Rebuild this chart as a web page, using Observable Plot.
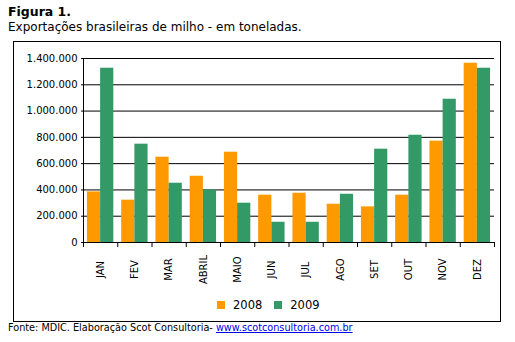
<!DOCTYPE html>
<html>
<head>
<meta charset="utf-8">
<script src="https://cdn.jsdelivr.net/npm/d3@7"></script>
<script src="https://cdn.jsdelivr.net/npm/@observablehq/plot@0.6"></script>
<style>
  html, body { margin: 0; padding: 0; background: #fff; }
  body { width: 515px; height: 342px; position: relative; overflow: hidden; font-family: "DejaVu Sans", sans-serif; color: #000; }
  #title { position: absolute; left: 8px; top: 4px; font-weight: bold; font-size: 12.5px; }
  #subtitle { position: absolute; left: 8px; top: 20px; font-size: 12px; }
  #box { position: absolute; left: 13px; top: 41px; width: 486px; height: 279px; border: 1px solid #000; }
  #chart { position: absolute; left: 0; top: 0; }
  #legend { position: absolute; left: 203px; top: 256px; font-size: 11.5px; white-space: nowrap; }
  #legend span.sw { display: inline-block; width: 8px; height: 8px; margin-right: 8px; vertical-align: 0px; }
  #legend span.lab { margin-right: 12px; }
  #caption { position: absolute; left: 8px; top: 322px; font-size: 9.7px; }
  #caption a { color: #0000ee; text-decoration: underline; }
</style>
</head>
<body>
<div id="title">Figura 1.</div>
<div id="subtitle">Exportações brasileiras de milho - em toneladas.</div>
<div id="box">
  <div id="chart"></div>
  <div id="legend"></div>
</div>
<div id="caption">Fonte: MDIC. Elaboração Scot Consultoria- <a>www.scotconsultoria.com.br</a></div>
<script>
const months = ["JAN","FEV","MAR","ABRIL","MAIO","JUN","JUL","AGO","SET","OUT","NOV","DEZ"];
const values2008 = [385000, 322000, 649000, 504000, 687000, 360000, 375000, 291000, 271000, 360000, 771000, 1364000];
const values2009 = [1326000, 748000, 451000, 400000, 299000, 154000, 154000, 367000, 710000, 816000, 1090000, 1326000];
const seriesNames = ["2008", "2009"];
const seriesColors = ["#FF9900", "#339966"];
const yTicks = [0, 200000, 400000, 600000, 800000, 1000000, 1200000, 1400000];

const rows = months.map((m, i) => ({i, m, v2008: values2008[i], v2009: values2009[i]}));
const fmt = d3.formatLocale({thousands: ".", grouping: [3], decimal: ","}).format(",d");

const chart = Plot.plot({
  width: 486,
  height: 250,
  marginLeft: 69,
  marginRight: 6,
  marginTop: 16,
  marginBottom: 50,
  style: {fontFamily: "DejaVu Sans, sans-serif", fontSize: "10px", color: "#000", background: "transparent"},
  x: {domain: [0, 12]},
  y: {domain: [0, 1400000]},
  marks: [
    Plot.gridY(yTicks, {stroke: "#000", strokeOpacity: 1}),
    Plot.rectY(rows, {x1: d => d.i + 0.115, x2: d => d.i + 0.5, y: "v2008", fill: seriesColors[0]}),
    Plot.rectY(rows, {x1: d => d.i + 0.5, x2: d => d.i + 0.885, y: "v2009", fill: seriesColors[1]}),
    Plot.axisY(yTicks, {tickFormat: fmt, tickSize: 2, tickPadding: 4, fontSize: 10, stroke: "#000"}),
    Plot.ruleX([0], {y1: 0, y2: 1400000, stroke: "#000"}),
    Plot.ruleY([0], {stroke: "#000"}),
    Plot.axisX(d3.range(13), {tickSize: 5, tickFormat: () => "", stroke: "#000"}),
    Plot.text(rows, {x: d => d.i + 0.5, y: 0, text: "m", rotate: -90, dy: 27, textAnchor: "middle", fontSize: 10, fill: "#000"})
  ]
});
document.getElementById("chart").appendChild(chart);

const legend = document.getElementById("legend");
seriesNames.forEach((name, k) => {
  const sw = document.createElement("span");
  sw.className = "sw";
  sw.style.background = seriesColors[k];
  const lab = document.createElement("span");
  lab.className = "lab";
  lab.textContent = name;
  legend.appendChild(sw);
  legend.appendChild(lab);
});
</script>
</body>
</html>
